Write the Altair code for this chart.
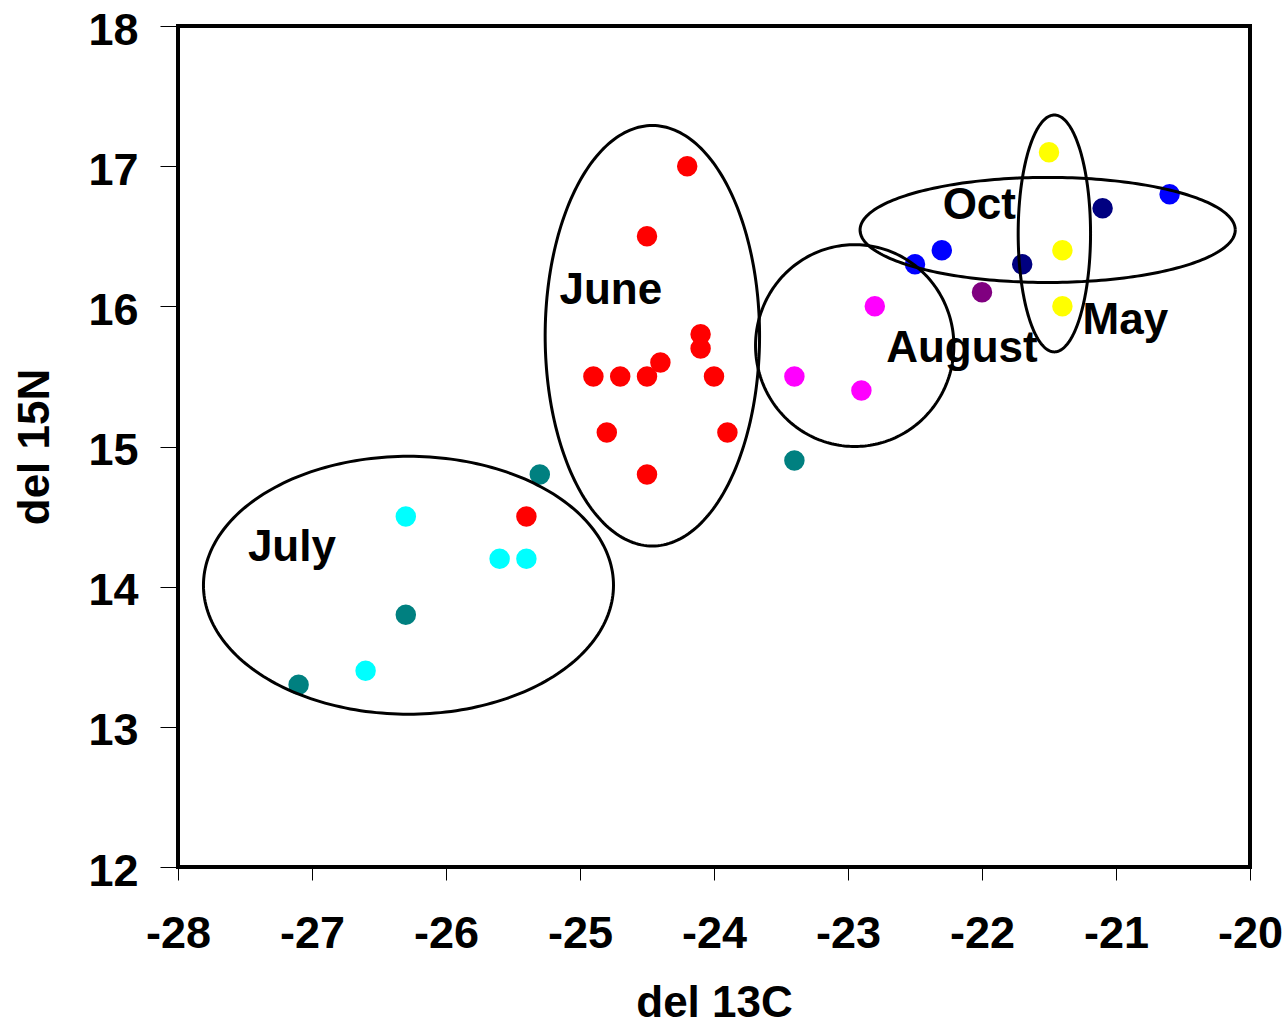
import altair as alt
import numpy as np
import pandas as pd

# Stable isotope measurements by sampling group
red_x = [-24.2, -24.5, -24.1, -24.1, -24.4, -24.9, -24.7, -24.5, -24.0, -24.8, -23.9, -24.5, -25.4]
red_y = [17.0, 16.5, 15.8, 15.7, 15.6, 15.5, 15.5, 15.5, 15.5, 15.1, 15.1, 14.8, 14.5]
cyan_x = [-26.3, -25.6, -25.4, -26.6]
cyan_y = [14.5, 14.2, 14.2, 13.4]
teal_x = [-27.1, -26.3, -25.3, -23.4]
teal_y = [13.3, 13.8, 14.8, 14.9]
magenta_x = [-23.4, -22.9, -22.8]
magenta_y = [15.5, 15.4, 16.0]
purple_x = [-22.0]
purple_y = [16.1]
blue_x = [-22.5, -22.3, -20.6]
blue_y = [16.3, 16.4, 16.8]
navy_x = [-21.7, -21.1]
navy_y = [16.3, 16.7]
yellow_x = [-21.5, -21.4, -21.4]
yellow_y = [17.1, 16.4, 16.0]

group_names = ["red", "cyan", "teal", "magenta", "purple", "blue", "navy", "yellow"]
group_colors = ["#FF0000", "#00FFFF", "#008080", "#FF00FF", "#800080", "#0000FF", "#000080", "#FFFF00"]

# Month clusters: label, label position, outline centre and radii
month_labels = ["June", "July", "August", "Oct", "May"]
label_x = [-24.77, -27.15, -22.15, -22.02, -20.93]
label_y = [16.02, 14.18, 15.60, 16.62, 15.80]
ring_cx = [-24.46, -26.28, -22.95, -21.51, -21.46]
ring_cy = [15.79, 14.01, 15.72, 16.545, 16.52]
ring_rx = [0.80, 1.53, 0.74, 1.40, 0.27]
ring_ry = [1.50, 0.92, 0.72, 0.375, 0.845]

x_ticks = [-28, -27, -26, -25, -24, -23, -22, -21, -20]
y_ticks = [12, 13, 14, 15, 16, 17, 18]

series = [
    (red_x, red_y), (cyan_x, cyan_y), (teal_x, teal_y), (magenta_x, magenta_y),
    (purple_x, purple_y), (blue_x, blue_y), (navy_x, navy_y), (yellow_x, yellow_y),
]
rows = []
for name, (xs, ys) in zip(group_names, series):
    for xv, yv in zip(xs, ys):
        rows.append({"c13": xv, "n15": yv, "group": name})
points = pd.DataFrame(rows)

labels = pd.DataFrame({"c13": label_x, "n15": label_y, "text": month_labels})

t = np.linspace(0, 2 * np.pi, 241)
ring_rows = []
for name, cx, cy, rx, ry in zip(month_labels, ring_cx, ring_cy, ring_rx, ring_ry):
    for i, a in enumerate(t):
        ring_rows.append({"c13": cx + rx * np.cos(a), "n15": cy + ry * np.sin(a),
                          "ring": name, "idx": i})
rings = pd.DataFrame(ring_rows)

FONT = "Liberation Sans"

x_enc = alt.X("c13:Q", scale=alt.Scale(domain=[-28, -20], nice=False, zero=False),
              axis=alt.Axis(title="del 13C", values=x_ticks, tickSize=13,
                            labelExpr="'' + datum.value", labelOverlap=False,
                            labelFlush=False,
                            labelPadding=31, titleBaseline="alphabetic", titleY=149))
y_enc = alt.Y("n15:Q", scale=alt.Scale(domain=[12, 18], nice=False, zero=False),
              axis=alt.Axis(title="del 15N", values=y_ticks, tickSize=18,
                            labelExpr="'' + datum.value", labelOverlap=False,
                            labelFlush=False,
                            labelPadding=22, labelOffset=4, titleX=-143,
                            titleBaseline="middle"))

dots = alt.Chart(points).mark_circle(size=420, opacity=1).encode(
    x=x_enc, y=y_enc,
    color=alt.Color("group:N", scale=alt.Scale(domain=group_names, range=group_colors),
                    legend=None),
)

text = alt.Chart(labels).mark_text(
    font=FONT, fontSize=44, fontWeight="bold", align="center", baseline="alphabetic",
    color="black",
).encode(x="c13:Q", y="n15:Q", text="text:N")

outlines = alt.Chart(rings).mark_line(color="black", strokeWidth=3).encode(
    x="c13:Q", y="n15:Q", detail="ring:N", order="idx:Q",
)

chart = alt.layer(dots, text, outlines).properties(
    width=1072, height=841,
    autosize=alt.AutoSizeParams(type="none"),
    padding={"left": 178, "top": 26, "right": 38, "bottom": 160},
    background="white",
).configure_view(
    stroke="black", strokeWidth=4,
).configure_axis(
    grid=False, domain=False, ticks=True, tickColor="black", tickWidth=1,
    labelFont=FONT, labelFontSize=45, labelFontWeight="bold", labelColor="black",
    titleFont=FONT, titleFontSize=44, titleFontWeight="bold", titleColor="black",
)

chart.save("out.html", embed_options={"renderer": "svg", "actions": False})
